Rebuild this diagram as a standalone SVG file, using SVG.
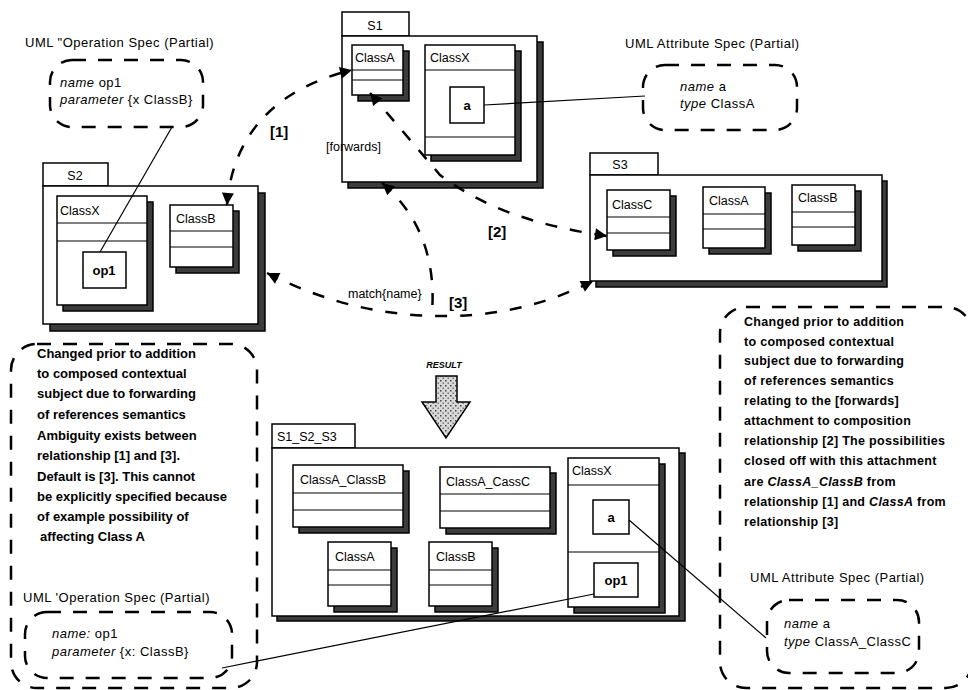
<svg xmlns="http://www.w3.org/2000/svg" width="968" height="690" viewBox="0 0 968 690">
<style>
.box{fill:#fff;stroke:#000;stroke-width:1.5}
.sh{fill:#3c3c3c;stroke:#000;stroke-width:1.5}
.ln{stroke:#000;stroke-width:1.2;fill:none}
.t{font-family:"Liberation Sans",Arial,sans-serif;font-size:12.5px;fill:#000}
.tb{font-family:"Liberation Sans",Arial,sans-serif;font-size:13px;font-weight:bold;fill:#000}
.sp{font-family:"Liberation Sans",Arial,sans-serif;font-size:13px;letter-spacing:0.5px;fill:#000}
.nt{font-family:"Liberation Sans",Arial,sans-serif;font-size:13px;font-weight:bold;fill:#000}
.nr{font-family:"Liberation Sans",Arial,sans-serif;font-size:12.5px;letter-spacing:0.3px;font-weight:bold;fill:#000}
.dash{fill:none;stroke:#000;stroke-width:2.5;stroke-dasharray:14 12}
.conn{fill:none;stroke:#000;stroke-width:2.5;stroke-dasharray:12 13}
.thin{fill:none;stroke:#000;stroke-width:1.2}
.br{font-family:"Liberation Sans",Arial,sans-serif;font-size:15px;font-weight:bold;fill:#000}
</style>
<defs>
<marker id="ah" viewBox="0 0 10 10" refX="10" refY="5" markerWidth="18" markerHeight="12" markerUnits="userSpaceOnUse" orient="auto-start-reverse">
<path d="M0,0 L10,5 L0,10 z" fill="#000"/>
</marker>
<pattern id="speck" width="5" height="5" patternUnits="userSpaceOnUse">
<rect width="5" height="5" fill="#d8d8d8"/>
<rect x="0" y="0" width="1.5" height="1.5" fill="#444"/>
<rect x="2.5" y="2.5" width="1.5" height="1.5" fill="#777"/>
</pattern>
</defs>
<rect width="968" height="690" fill="#fff"/>

<!-- Notes -->
<g id="note-left">
<rect class="dash" x="11" y="344" width="246" height="344" rx="26"/>
<text class="nt" x="37" y="358">Changed prior to addition</text>
<text class="nt" x="37" y="378">to composed contextual</text>
<text class="nt" x="37" y="398">subject  due to forwarding</text>
<text class="nt" x="37" y="419">of references semantics</text>
<text class="nt" x="37" y="440">Ambiguity exists between</text>
<text class="nt" x="37" y="460">relationship [1] and [3].</text>
<text class="nt" x="37" y="481">Default is [3]. This cannot</text>
<text class="nt" x="37" y="501">be explicitly specified because</text>
<text class="nt" x="37" y="521">of example possibility of</text>
<text class="nt" x="40" y="541">affecting Class A</text>
</g>
<g id="note-right">
<rect class="dash" x="720" y="307" width="252" height="381" rx="26"/>
<text class="nr" x="744" y="326">Changed prior to addition</text>
<text class="nr" x="744" y="346">to composed contextual</text>
<text class="nr" x="744" y="365">subject  due to forwarding</text>
<text class="nr" x="744" y="385">of references semantics</text>
<text class="nr" x="744" y="405">relating to the [forwards]</text>
<text class="nr" x="744" y="425">attachment to composition</text>
<text class="nr" x="744" y="445">relationship [2]  The possibilities</text>
<text class="nr" x="744" y="465">closed off with this attachment</text>
<text class="nr" x="744" y="486">are <tspan font-style="italic">ClassA_ClassB</tspan> from</text>
<text class="nr" x="744" y="506">relationship [1] and <tspan font-style="italic">ClassA</tspan> from</text>
<text class="nr" x="744" y="526">relationship [3]</text>
</g>

<!-- Spec boxes -->
<g id="spec-op-top">
<text class="sp" x="25" y="47">UML "Operation Spec (Partial)</text>
<rect class="dash" x="50" y="60" width="153" height="67" rx="22"/>
<text class="sp" x="60" y="87"><tspan font-style="italic">name</tspan> op1</text>
<text class="sp" x="60" y="104"><tspan font-style="italic">parameter</tspan> {x ClassB}</text>
</g>
<g id="spec-attr-top">
<text class="sp" x="625" y="48">UML Attribute Spec (Partial)</text>
<rect class="dash" x="643" y="65" width="154" height="65" rx="22"/>
<text class="sp" x="680" y="91"><tspan font-style="italic">name</tspan> a</text>
<text class="sp" x="680" y="108"><tspan font-style="italic">type</tspan> ClassA</text>
</g>
<g id="spec-op-bottom">
<text class="sp" x="23" y="602">UML 'Operation Spec (Partial)</text>
<rect class="dash" x="25" y="612" width="207" height="66" rx="22"/>
<text class="sp" x="52" y="638"><tspan font-style="italic">name:</tspan> op1</text>
<text class="sp" x="52" y="656"><tspan font-style="italic">parameter</tspan> {x: ClassB}</text>
</g>
<g id="spec-attr-bottom">
<text class="sp" x="750" y="582">UML Attribute Spec (Partial)</text>
<rect class="dash" x="767" y="600" width="152" height="73" rx="22"/>
<text class="sp" x="784" y="628" letter-spacing="0.1"><tspan font-style="italic">name</tspan> a</text>
<text class="sp" x="784" y="646" letter-spacing="0.1"><tspan font-style="italic">type</tspan> ClassA_ClassC</text>
</g>

<!-- S1 -->
<g id="S1">
<rect class="box" x="342" y="12" width="67" height="24"/>
<text class="t" x="375" y="30" text-anchor="middle">S1</text>
<rect class="sh" x="348" y="42" width="195" height="146"/>
<rect class="box" x="342" y="36" width="195" height="146"/>
<g id="S1-ClassA">
<rect class="sh" x="358" y="51" width="51" height="50"/>
<rect class="box" x="352" y="45" width="51" height="50"/>
<line class="ln" x1="352" y1="70" x2="403" y2="70"/>
<line class="ln" x1="352" y1="80" x2="403" y2="80"/>
<text class="t" x="355" y="62">ClassA</text>
</g>
<g id="S1-ClassX">
<rect class="sh" x="431" y="51" width="90" height="110"/>
<rect class="box" x="425" y="45" width="90" height="110"/>
<line class="ln" x1="425" y1="70" x2="515" y2="70"/>
<line class="ln" x1="425" y1="137" x2="515" y2="137"/>
<text class="t" x="430" y="62">ClassX</text>
<rect class="box" x="450" y="87" width="34" height="36"/>
<text class="tb" x="467" y="110" text-anchor="middle">a</text>
</g>
</g>

<!-- S2 -->
<g id="S2">
<rect class="box" x="43" y="163" width="65" height="23"/>
<text class="t" x="75" y="180" text-anchor="middle">S2</text>
<rect class="sh" x="50" y="193" width="215" height="138"/>
<rect class="box" x="43" y="186" width="215" height="138"/>
<g id="S2-ClassX">
<rect class="sh" x="63" y="202" width="90" height="109"/>
<rect class="box" x="57" y="196" width="90" height="109"/>
<line class="ln" x1="57" y1="223" x2="147" y2="223"/>
<line class="ln" x1="57" y1="241" x2="147" y2="241"/>
<text class="t" x="60" y="215">ClassX</text>
<rect class="box" x="83" y="252" width="43" height="36"/>
<text class="tb" x="104" y="275" text-anchor="middle">op1</text>
</g>
<g id="S2-ClassB">
<rect class="sh" x="176" y="211" width="63" height="62"/>
<rect class="box" x="170" y="205" width="63" height="62"/>
<line class="ln" x1="170" y1="231" x2="233" y2="231"/>
<line class="ln" x1="170" y1="247" x2="233" y2="247"/>
<text class="t" x="176" y="223">ClassB</text>
</g>
</g>

<!-- S3 -->
<g id="S3">
<rect class="box" x="590" y="153" width="68" height="22"/>
<text class="t" x="620" y="169" text-anchor="middle">S3</text>
<rect class="sh" x="596" y="181" width="291" height="106"/>
<rect class="box" x="590" y="175" width="292" height="106"/>
<g id="S3-ClassC">
<rect class="sh" x="613" y="196" width="63" height="60"/>
<rect class="box" x="607" y="190" width="63" height="60"/>
<line class="ln" x1="607" y1="217" x2="670" y2="217"/>
<line class="ln" x1="607" y1="233" x2="670" y2="233"/>
<text class="t" x="612" y="209">ClassC</text>
</g>
<g id="S3-ClassA">
<rect class="sh" x="709" y="193" width="62" height="61"/>
<rect class="box" x="703" y="187" width="62" height="61"/>
<line class="ln" x1="703" y1="214" x2="765" y2="214"/>
<line class="ln" x1="703" y1="229" x2="765" y2="229"/>
<text class="t" x="709" y="205">ClassA</text>
</g>
<g id="S3-ClassB">
<rect class="sh" x="798" y="191" width="63" height="60"/>
<rect class="box" x="792" y="185" width="63" height="60"/>
<line class="ln" x1="792" y1="212" x2="855" y2="212"/>
<line class="ln" x1="792" y1="227" x2="855" y2="227"/>
<text class="t" x="798" y="202">ClassB</text>
</g>
</g>

<!-- RESULT arrow -->
<g id="result">
<text x="444" y="368" text-anchor="middle" font-family="Liberation Sans, Arial, sans-serif" font-size="9" font-style="italic" font-weight="bold">RESULT</text>
<polygon points="436,376 457,376 457,402 470,402 446,438 422,402 436,402" fill="url(#speck)" stroke="#000" stroke-width="1.5"/>
</g>

<!-- S1_S2_S3 -->
<g id="S1_S2_S3">
<rect class="box" x="272" y="424" width="83" height="24"/>
<text class="t" x="277" y="441">S1_S2_S3</text>
<rect class="sh" x="277" y="453" width="408" height="168"/>
<rect class="box" x="272" y="448" width="407" height="168"/>
<g id="R-ClassA_ClassB">
<rect class="sh" x="299" y="471" width="110" height="62"/>
<rect class="box" x="293" y="465" width="110" height="62"/>
<line class="ln" x1="293" y1="493" x2="403" y2="493"/>
<line class="ln" x1="293" y1="510" x2="403" y2="510"/>
<text class="t" x="300" y="484">ClassA_ClassB</text>
</g>
<g id="R-ClassA_CassC">
<rect class="sh" x="446" y="473" width="110" height="61"/>
<rect class="box" x="440" y="467" width="110" height="61"/>
<line class="ln" x1="440" y1="494" x2="550" y2="494"/>
<line class="ln" x1="440" y1="511" x2="550" y2="511"/>
<text class="t" x="446" y="486">ClassA_CassC</text>
</g>
<g id="R-ClassX">
<rect class="sh" x="574" y="464" width="91" height="149"/>
<rect class="box" x="568" y="458" width="91" height="149"/>
<line class="ln" x1="568" y1="485" x2="659" y2="485"/>
<line class="ln" x1="568" y1="552" x2="659" y2="552"/>
<text class="t" x="572" y="475">ClassX</text>
<rect class="box" x="593" y="500" width="36" height="34"/>
<text class="tb" x="611" y="522" text-anchor="middle">a</text>
<rect class="box" x="594" y="563" width="44" height="34"/>
<text class="tb" x="616" y="585" text-anchor="middle">op1</text>
</g>
<g id="R-ClassA">
<rect class="sh" x="334" y="548" width="63" height="64"/>
<rect class="box" x="328" y="542" width="63" height="64"/>
<line class="ln" x1="328" y1="570" x2="391" y2="570"/>
<line class="ln" x1="328" y1="585" x2="391" y2="585"/>
<text class="t" x="335" y="561">ClassA</text>
</g>
<g id="R-ClassB">
<rect class="sh" x="435" y="548" width="63" height="64"/>
<rect class="box" x="429" y="542" width="63" height="64"/>
<line class="ln" x1="429" y1="570" x2="492" y2="570"/>
<line class="ln" x1="429" y1="585" x2="492" y2="585"/>
<text class="t" x="436" y="561">ClassB</text>
</g>
</g>

<!-- Connectors -->
<g id="connectors">
<line class="thin" x1="172" y1="127" x2="100" y2="252"/>
<line class="thin" x1="484" y1="105" x2="645" y2="96"/>
<line class="thin" x1="629" y1="520" x2="766" y2="638"/>
<line class="thin" x1="594" y1="594" x2="222" y2="668"/>
<path class="conn" d="M227,205 C232,140 270,90 352,70" marker-start="url(#ah)" marker-end="url(#ah)"/>
<path class="conn" d="M370,93 L440,175 C480,205 530,225 607,236" marker-start="url(#ah)" marker-end="url(#ah)"/>
<path class="conn" d="M382,183 C420,215 436,260 432,312" marker-start="url(#ah)"/>
<path class="conn" d="M267,273 C330,305 390,317 450,316 C510,315 555,300 593,281" marker-start="url(#ah)" marker-end="url(#ah)"/>
<text class="br" x="270" y="137">[1]</text>
<text class="br" x="488" y="237">[2]</text>
<text class="br" x="449" y="308">[3]</text>
<text class="t" x="326" y="151">[forwards]</text>
<text class="t" x="348" y="298">match{name}</text>
</g>
</svg>
